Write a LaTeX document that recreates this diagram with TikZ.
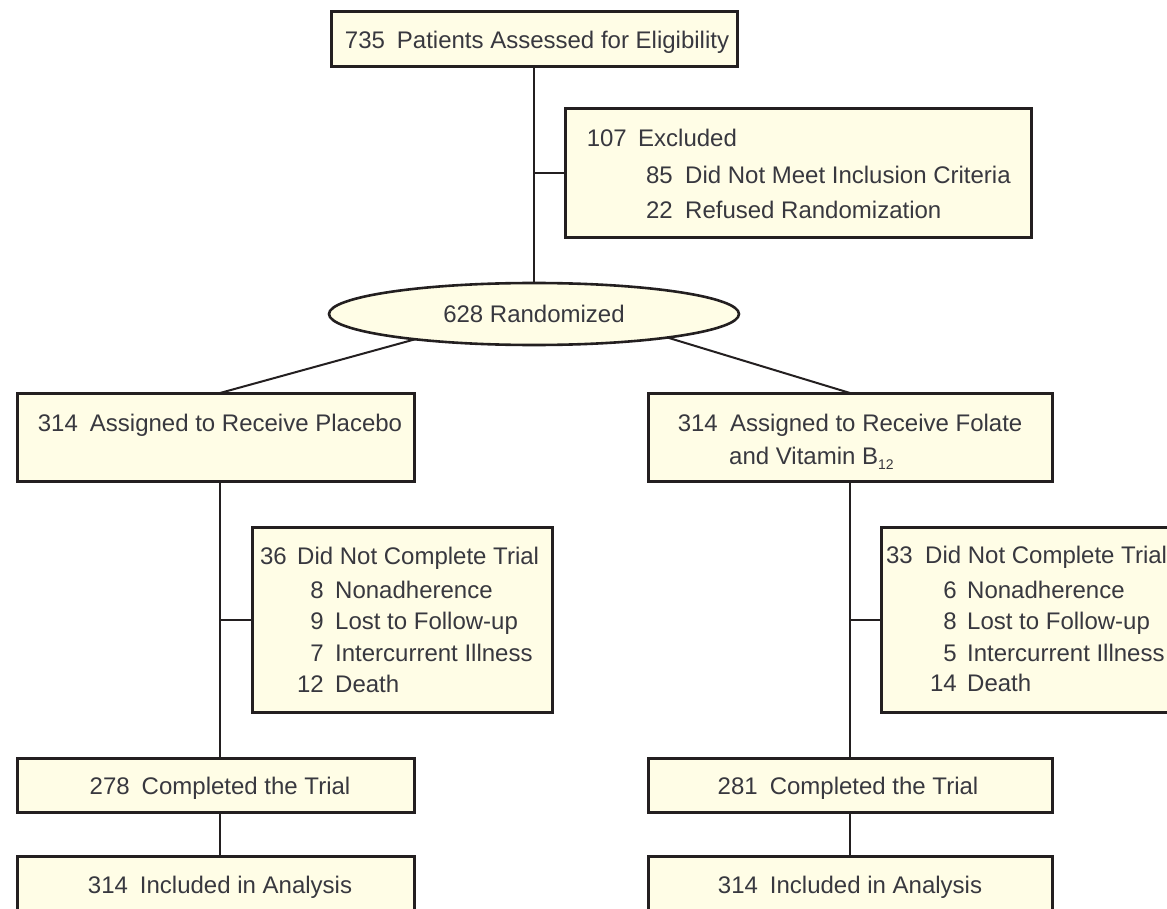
\documentclass[tikz,border=0pt]{standalone}
\usepackage{fontspec}
\setmainfont{Liberation Sans}
\usetikzlibrary{shapes.geometric,calc,backgrounds}
\definecolor{boxfill}{HTML}{FFFDE6}
\definecolor{edge}{HTML}{231F20}
\definecolor{txt}{HTML}{38383F}
\newcommand\numgap{\hspace{12pt}}
\begin{document}
\begin{tikzpicture}[x=1pt,y=-1pt,
 box/.style={draw=edge, line width=3pt, fill=boxfill, rectangle, inner sep=0pt, outer sep=0pt, anchor=north west},
 oval/.style={draw=edge, line width=2.6pt, fill=boxfill, ellipse, inner sep=0pt, outer sep=0pt, minimum width=410pt, minimum height=62pt},
 conn/.style={draw=edge, line width=2pt},
 lbl/.style={text=txt, inner sep=0pt, font=\fontsize{24}{28}\selectfont},
 ctr/.style={lbl, anchor=base},
 num/.style={lbl, anchor=base east},
 wrd/.style={lbl, anchor=base west},
]
\useasboundingbox (0,0) rectangle (1167,909);
\clip (0,0) rectangle (1167,909);

% boxes
\node[box, minimum width=406pt, minimum height=55pt] (top) at (331,12) {};
\node[box, minimum width=466pt, minimum height=129pt] (excl) at (565,109) {};
\node[oval] (rand) at (534,314) {};
\node[box, minimum width=397pt, minimum height=88pt] (placebo) at (17,393) {};
\node[box, minimum width=404pt, minimum height=88pt] (folate) at (648,393) {};
\node[box, minimum width=300pt, minimum height=185pt] (dncL) at (252,527) {};
\node[box, minimum width=310pt, minimum height=185pt] (dncR) at (881,527) {};
\node[box, minimum width=397pt, minimum height=54pt] (compL) at (17,758) {};
\node[box, minimum width=404pt, minimum height=54pt] (compR) at (648,758) {};
\node[box, minimum width=397pt, minimum height=74pt] (inclL) at (17,856) {};
\node[box, minimum width=404pt, minimum height=74pt] (inclR) at (648,856) {};

% trunks
\coordinate (tl) at (220,0);
\coordinate (tr) at (850,0);

\begin{scope}[on background layer]
\draw[conn] (top.south) -- (rand.north);
\draw[conn] (excl.west) -- (excl.west -| top.south);
\draw[conn] (rand.192) -- (placebo.north -| tl);
\draw[conn] (rand.350) -- (folate.north -| tr);
\draw[conn] (placebo.south -| tl) -- (compL.north -| tl);
\draw[conn] (dncL.west) -- (dncL.west -| tl);
\draw[conn] (compL.south -| tl) -- (inclL.north -| tl);
\draw[conn] (folate.south -| tr) -- (compR.north -| tr);
\draw[conn] (dncR.west) -- (dncR.west -| tr);
\draw[conn] (compR.south -| tr) -- (inclR.north -| tr);
\end{scope}

% texts
\node[ctr] (t0) at (537,49) {735\numgap Patients Assessed for Eligibility};

\node[num] (e1n) at (627,147) {107};
\node[wrd] (e1w) at (638,147) {Excluded};
\node[num] (e2n) at (673,184) {85};
\node[wrd] (e2w) at (685,184) {Did Not Meet Inclusion Criteria};
\node[num] (e3n) at (673,219) {22};
\node[wrd] (e3w) at (685,219) {Refused Randomization};

\node[ctr] (rt) at (534,323) {628 Randomized};

\node[ctr] (pt) at (220,431) {314\numgap Assigned to Receive Placebo};

\node[num] (f1n) at (718,431) {314};
\node[wrd] (f1w) at (730,431) {Assigned to Receive Folate};
\node[wrd] (f2w) at (729,464) {and Vitamin B\raisebox{-5pt}{\fontsize{14}{14}\selectfont 12}};

\node[num] (l1n) at (287,564) {36};
\node[wrd] (l1w) at (297,564) {Did Not Complete Trial};
\node[num] (l2n) at (324,598) {8};
\node[wrd] (l2w) at (335,598) {Nonadherence};
\node[num] (l3n) at (324,629) {9};
\node[wrd] (l3w) at (335,629) {Lost to Follow-up};
\node[num] (l4n) at (324,661) {7};
\node[wrd] (l4w) at (335,661) {Intercurrent Illness};
\node[num] (l5n) at (324,692) {12};
\node[wrd] (l5w) at (335,692) {Death};

\node[num] (r1n) at (913,563) {33};
\node[wrd] (r1w) at (925,563) {Did Not Complete Trial};
\node[num] (r2n) at (957,598) {6};
\node[wrd] (r2w) at (967,598) {Nonadherence};
\node[num] (r3n) at (957,629) {8};
\node[wrd] (r3w) at (967,629) {Lost to Follow-up};
\node[num] (r4n) at (957,661) {5};
\node[wrd] (r4w) at (967,661) {Intercurrent Illness};
\node[num] (r5n) at (957,691) {14};
\node[wrd] (r5w) at (967,691) {Death};

\node[ctr] (clt) at (220,794) {278\numgap Completed the Trial};
\node[ctr] (crt) at (848,794) {281\numgap Completed the Trial};
\node[ctr] (ilt) at (220,893) {314\numgap Included in Analysis};
\node[ctr] (irt) at (850,893) {314\numgap Included in Analysis};
\end{tikzpicture}
\end{document}
